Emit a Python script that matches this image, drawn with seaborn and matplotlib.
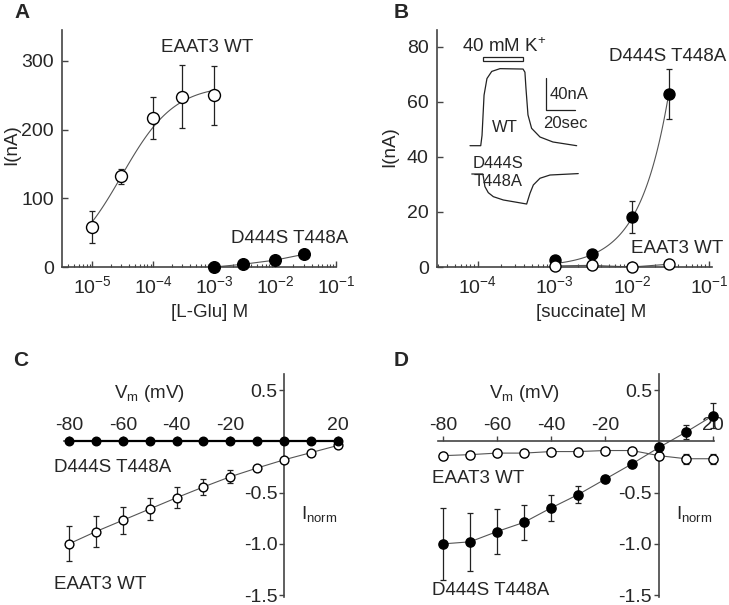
import matplotlib
matplotlib.use("Agg")
import matplotlib.pyplot as plt
import seaborn as sns
import numpy as np
from matplotlib.ticker import LogLocator, FixedLocator, NullFormatter, LogFormatterSciNotation

sns.set_style("ticks")
plt.rcParams['font.family'] = ['Liberation Sans', 'DejaVu Sans']
plt.rcParams['mathtext.default'] = 'regular'
plt.rcParams['axes.unicode_minus'] = False

# ---- data: panel A (L-Glu dose response) ----
glu_conc_wt = [1e-5, 3e-5, 1e-4, 3e-4, 1e-3]
glu_wt = [58, 132, 217, 248, 250]
glu_wt_err = [23, 11, 30, 46, 43]
glu_conc_mut = [1e-3, 3e-3, 1e-2, 3e-2]
glu_mut = [0, 4, 10, 18.5]
# Hill fit for WT
glu_imax, glu_ec50, glu_nh = 265.0, 3.0e-5, 1.0

# ---- data: panel B (succinate dose response) ----
succ_conc = [1e-3, 3e-3, 1e-2, 3e-2]
succ_mut = [2.7, 4.8, 18.2, 62.7]
succ_mut_err = [0.5, 0.6, 5.9, 9.0]
succ_wt = [0.4, 0.6, 0.0, 1.0]
# power-law fit for the mutant
succ_a, succ_ref, succ_n = 62.7, 3e-2, 1.15

# inset traces (time in s, current in nA)
wt_t = [0, 7.4, 8.3, 9.7, 11.7, 15.0, 20.7, 36.6, 37.9, 38.6, 40.0, 42.5, 48.3, 57.2, 73.6]
wt_i = [0, 0, 13, 64, 85, 94, 97.5, 97, 93, 73, 39, 22, 11, 4.7, 0]
mut_t = [1.2, 8.8, 9.2, 10.3, 12.6, 16.1, 23.0, 32.2, 39.1, 41.4, 43.7, 48.3, 55.2, 74.7]
mut_i = [0, 0, -3.4, -16, -23.6, -28.7, -32.9, -35.8, -38, -24.4, -13.9, -5.4, -1.3, 0.5]
mut_offset = -35.8
k_on, k_off = 8.8, 36.8

# ---- data: panels C and D (I-V curves) ----
vm = [-80, -70, -60, -50, -40, -30, -20, -10, 0, 10, 20]
c_mut = [0, 0, 0, 0, 0, 0, 0, 0, 0, 0, 0]
c_wt = [-1.0, -0.88, -0.77, -0.66, -0.55, -0.445, -0.345, -0.26, -0.18, -0.11, -0.04]
c_wt_err = [0.17, 0.15, 0.13, 0.11, 0.105, 0.08, 0.065, 0.02, 0.01, 0.01, 0.01]
d_mut = [-1.0, -0.98, -0.88, -0.79, -0.65, -0.52, -0.37, -0.22, -0.06, 0.09, 0.25]
d_mut_err = [0.35, 0.28, 0.22, 0.17, 0.13, 0.08, 0.03, 0.01, 0.01, 0.065, 0.12]
d_wt = [-0.14, -0.13, -0.115, -0.115, -0.10, -0.10, -0.09, -0.09, -0.14, -0.17, -0.17]
d_wt_err = [0.03, 0.01, 0.01, 0.01, 0.01, 0.01, 0.01, 0.01, 0.03, 0.05, 0.05]

AX_COL = '#444444'
FIT_COL = '#555555'
FS = 13.5

W, H = 729, 605
fig = plt.figure(figsize=(7.29, 6.05), dpi=100)


def px(l, t, r, b):
    return [l / W, 1 - b / H, (r - l) / W, (b - t) / H]


def open_pts(ax, x, y, s):
    sns.scatterplot(x=x, y=y, ax=ax, s=s, color='white', edgecolor='black',
                    linewidth=1.0, zorder=4, clip_on=False, legend=False)


def filled_pts(ax, x, y, s):
    sns.scatterplot(x=x, y=y, ax=ax, s=s, color='black', edgecolor='black',
                    linewidth=1.0, zorder=4, clip_on=False, legend=False)


def errs(ax, x, y, e):
    ax.errorbar(x, y, yerr=e, fmt='none', ecolor='#222222', elinewidth=0.9,
                capsize=2.2, capthick=0.9, zorder=3, clip_on=False)


def dose_axes(ax, xlim, ylim, yticks):
    ax.set_xscale('log')
    ax.set_xlim(*xlim)
    ax.set_ylim(*ylim)
    sns.despine(ax=ax)
    for s in ['left', 'bottom']:
        ax.spines[s].set_color(AX_COL)
        ax.spines[s].set_linewidth(1.2)
    ax.xaxis.set_major_locator(LogLocator(base=10, numticks=10))
    ax.xaxis.set_minor_locator(LogLocator(base=10, subs=np.arange(2, 10), numticks=10))
    ax.xaxis.set_minor_formatter(NullFormatter())
    ax.xaxis.set_major_formatter(LogFormatterSciNotation())
    ax.set_yticks(yticks)
    ax.tick_params(axis='both', which='major', direction='in', length=4, width=1,
                   color=AX_COL, labelsize=14, pad=6)
    ax.tick_params(axis='x', which='minor', direction='in', length=2.5, width=0.8,
                   color=AX_COL)


# ---------------- A ----------------
axA = fig.add_axes(px(62, 30, 336, 267))
dose_axes(axA, (10 ** -5.5, 10 ** -1), (0, 345), [0, 100, 200, 300])
fit_x = np.logspace(-5, -3, 120)
fit_y = glu_imax * fit_x ** glu_nh / (fit_x ** glu_nh + glu_ec50 ** glu_nh)
sns.lineplot(x=fit_x, y=fit_y, ax=axA, color=FIT_COL, linewidth=0.8, zorder=2)
sns.lineplot(x=glu_conc_mut, y=glu_mut, ax=axA, color=FIT_COL, linewidth=0.8, zorder=2)
errs(axA, glu_conc_wt, glu_wt, glu_wt_err)
open_pts(axA, glu_conc_wt, glu_wt, 74)
filled_pts(axA, glu_conc_mut, glu_mut, 70)
axA.text(10 ** -3.12, 319, 'EAAT3 WT', ha='center', va='center', fontsize=FS)
axA.text(10 ** -1.76, 42, 'D444S T448A', ha='center', va='center', fontsize=FS)
axA.set_xlabel('[L-Glu] M', fontsize=FS)
axA.set_ylabel('I(nA)', fontsize=FS)
axA.xaxis.set_label_coords(0.54, -0.155)
axA.yaxis.set_label_coords(-0.152, 0.515)

# ---------------- B ----------------
axB = fig.add_axes(px(437, 30, 712, 267))
dose_axes(axB, (10 ** -4.53, 10 ** -0.96), (0, 86), [0, 20, 40, 60, 80])
fit_x = np.logspace(-3, np.log10(3e-2), 120)
fit_y = succ_a * (fit_x / succ_ref) ** succ_n
sns.lineplot(x=fit_x, y=fit_y, ax=axB, color=FIT_COL, linewidth=0.8, zorder=2)
sns.lineplot(x=succ_conc, y=succ_wt, ax=axB, color=FIT_COL, linewidth=0.8, zorder=2)
errs(axB, succ_conc, succ_mut, succ_mut_err)
filled_pts(axB, succ_conc, succ_mut, 63)
open_pts(axB, succ_conc, succ_wt, 63)
axB.text(10 ** -0.775, 76.4, 'D444S T448A', ha='right', va='center', fontsize=FS)
axB.text(10 ** -1.41, 6.7, 'EAAT3 WT', ha='center', va='center', fontsize=FS)
axB.set_xlabel('[succinate] M', fontsize=FS)
axB.set_ylabel('I(nA)', fontsize=FS)
axB.xaxis.set_label_coords(0.56, -0.155)
axB.yaxis.set_label_coords(-0.142, 0.506)

# inset with current traces
axI = fig.add_axes(px(460, 50, 590, 215))
axI.set_xlim(-6.9, 82.8)
axI.set_ylim(-87.7, 121.1)
axI.axis('off')
sns.lineplot(x=wt_t, y=wt_i, ax=axI, color='#222222', linewidth=0.9, sort=False)
sns.lineplot(x=mut_t, y=np.array(mut_i) + mut_offset, ax=axI, color='#222222',
             linewidth=0.9, sort=False)
axI.add_patch(plt.Rectangle((k_on, 107.2), k_off - k_on, 5.5, facecolor='white',
                            edgecolor='#222222', linewidth=0.9, clip_on=False))
axI.text((k_on + k_off) / 2 + 0.5, 125, '40 mM K$^{+}$', ha='center', va='center',
         fontsize=FS, clip_on=False)
axI.plot([52.4, 52.4, 72.4], [85.2, 45.2, 45.2], color='#222222', linewidth=0.9)
axI.text(54.8, 65.4, '40nA', ha='left', va='center', fontsize=12)
axI.text(50.3, 28.7, '20sec', ha='left', va='center', fontsize=12)
axI.text(24.1, 22.4, 'WT', ha='center', va='center', fontsize=12)
axI.text(19.0, -21.9, 'D444S', ha='center', va='center', fontsize=12)
axI.text(19.3, -45.6, 'T448A', ha='center', va='center', fontsize=12)


# ---------------- C & D ----------------
def iv_axes(ax):
    ax.set_xlim(-84, 22)
    ax.set_ylim(-1.55, 0.7)
    ax.spines['right'].set_visible(False)
    ax.spines['bottom'].set_visible(False)
    ax.spines['top'].set_position(('data', 0))
    ax.spines['left'].set_position(('data', 0))
    ax.spines['top'].set_bounds(-82, 20.5)
    ax.spines['left'].set_bounds(-1.52, 0.66)
    for s in ['top', 'left']:
        ax.spines[s].set_color(AX_COL)
        ax.spines[s].set_linewidth(1.2)
    ax.xaxis.set_ticks_position('top')
    ax.xaxis.set_major_locator(FixedLocator([-80, -60, -40, -20, 20]))
    ax.yaxis.set_major_locator(FixedLocator([0.5, -0.5, -1.0, -1.5]))
    ax.set_yticklabels(['0.5', '-0.5', '-1.0', '-1.5'])
    ax.tick_params(axis='both', direction='out', length=3.5, width=1, color=AX_COL,
                   labelsize=14, pad=1.5)
    ax.set_xlabel('')
    ax.set_ylabel('')


def iv_labels(ax):
    ax.text(-50, 0.47, 'V$_{m}$ (mV)', ha='center', va='center', fontsize=FS)
    ax.text(13, -0.71, 'I$_{norm}$', ha='center', va='center', fontsize=FS)


axC = fig.add_axes(px(58.2, 369.5, 343.4, 600.3))
sns.lineplot(x=vm, y=c_wt, ax=axC, color=FIT_COL, linewidth=0.8, zorder=2)
sns.lineplot(x=vm, y=c_mut, ax=axC, color='black', linewidth=1.6, zorder=3)
errs(axC, vm, c_wt, c_wt_err)
open_pts(axC, vm, c_wt, 40)
filled_pts(axC, vm, c_mut, 38)
iv_axes(axC)
iv_labels(axC)
axC.text(-63.6, -0.26, 'D444S T448A', ha='center', va='center', fontsize=FS)
axC.text(-68.5, -1.40, 'EAAT3 WT', ha='center', va='center', fontsize=FS)

axD = fig.add_axes(px(432.2, 369.5, 718.4, 600.3))
sns.lineplot(x=vm, y=d_wt, ax=axD, color=FIT_COL, linewidth=0.8, zorder=2)
sns.lineplot(x=vm, y=d_mut, ax=axD, color=FIT_COL, linewidth=0.8, zorder=2)
errs(axD, vm, d_mut, d_mut_err)
errs(axD, vm, d_wt, d_wt_err)
open_pts(axD, vm, d_wt, 44)
filled_pts(axD, vm, d_mut, 44)
iv_axes(axD)
iv_labels(axD)
axD.text(-66.9, -0.365, 'EAAT3 WT', ha='center', va='center', fontsize=FS)
axD.text(-62.2, -1.45, 'D444S T448A', ha='center', va='center', fontsize=FS)

# panel letters
for lab, x, y in [('A', 22, 12), ('B', 401, 12), ('C', 21, 360), ('D', 401, 360)]:
    fig.text(x / W, 1 - y / H, lab, ha='center', va='center', fontsize=15,
             fontweight='bold')

fig.savefig('out.png', dpi=100)
